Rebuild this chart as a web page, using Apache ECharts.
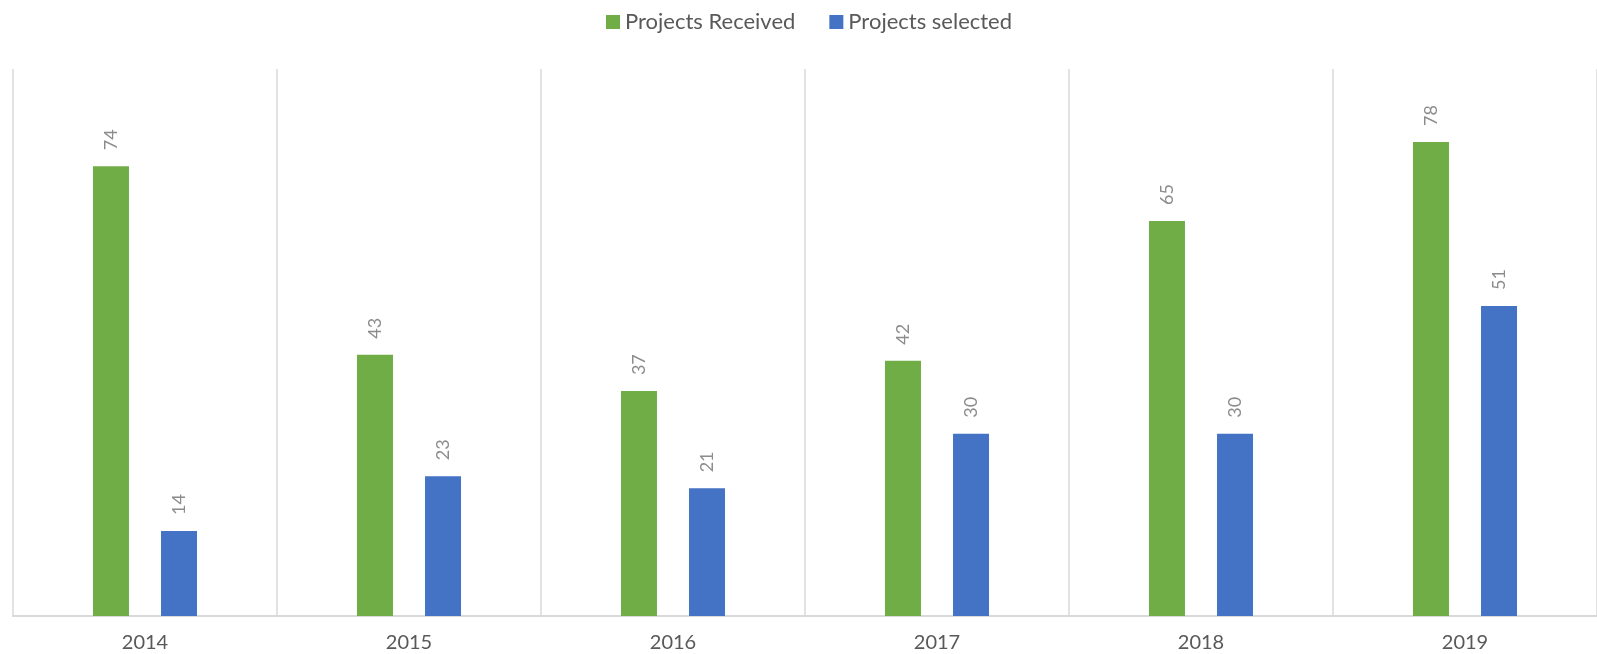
<!DOCTYPE html>
<html>
<head>
<meta charset="utf-8">
<script src="https://cdn.jsdelivr.net/npm/echarts@6/dist/echarts.min.js"></script>
<style>html,body{margin:0;padding:0;background:#fff}#c{width:1597px;height:654px}</style>
</head>
<body>
<div id="c"></div>
<script>
const categories = ['2014', '2015', '2016', '2017', '2018', '2019'];
const projectsReceived = [74, 43, 37, 42, 65, 78];
const projectsSelected = [14, 23, 21, 30, 30, 51];
const seriesNames = ['Projects Received', 'Projects selected'];

const chart = echarts.init(document.getElementById('c'));
const FONT = 'Lato, "Open Sans", sans-serif';
const labelCfg = {
  show: true, position: 'top', rotate: 90, align: 'left', verticalAlign: 'middle',
  distance: 16, color: '#8c8c8c', fontSize: 18, fontFamily: FONT
};
chart.setOption({
  animation: false,
  legend: {
    data: seriesNames, left: 601, top: 6, itemWidth: 14, itemHeight: 14, itemGap: 34,
    icon: 'rect',
    textStyle: { color: '#595959', fontSize: 22, fontFamily: FONT }
  },
  grid: { left: 13, right: 0, top: 69, bottom: 38, containLabel: false },
  xAxis: {
    type: 'category', data: categories,
    axisLine: { show: true, lineStyle: { color: '#d9d9d9', width: 2 } },
    axisTick: { show: false },
    splitLine: { show: true, lineStyle: { color: '#d9d9d9', width: 1.5 } },
    axisLabel: { color: '#595959', fontSize: 20, fontFamily: FONT, margin: 17 }
  },
  yAxis: {
    type: 'value', min: 0, max: 90, show: false, splitLine: { show: false }
  },
  series: [
    { name: seriesNames[0], type: 'bar', data: projectsReceived, barWidth: 36, barGap: '89%',
      itemStyle: { color: '#70AD47' }, label: labelCfg },
    { name: seriesNames[1], type: 'bar', data: projectsSelected, barWidth: 36, barGap: '89%',
      itemStyle: { color: '#4472C4' }, label: labelCfg }
  ]
});
</script>
</body>
</html>
